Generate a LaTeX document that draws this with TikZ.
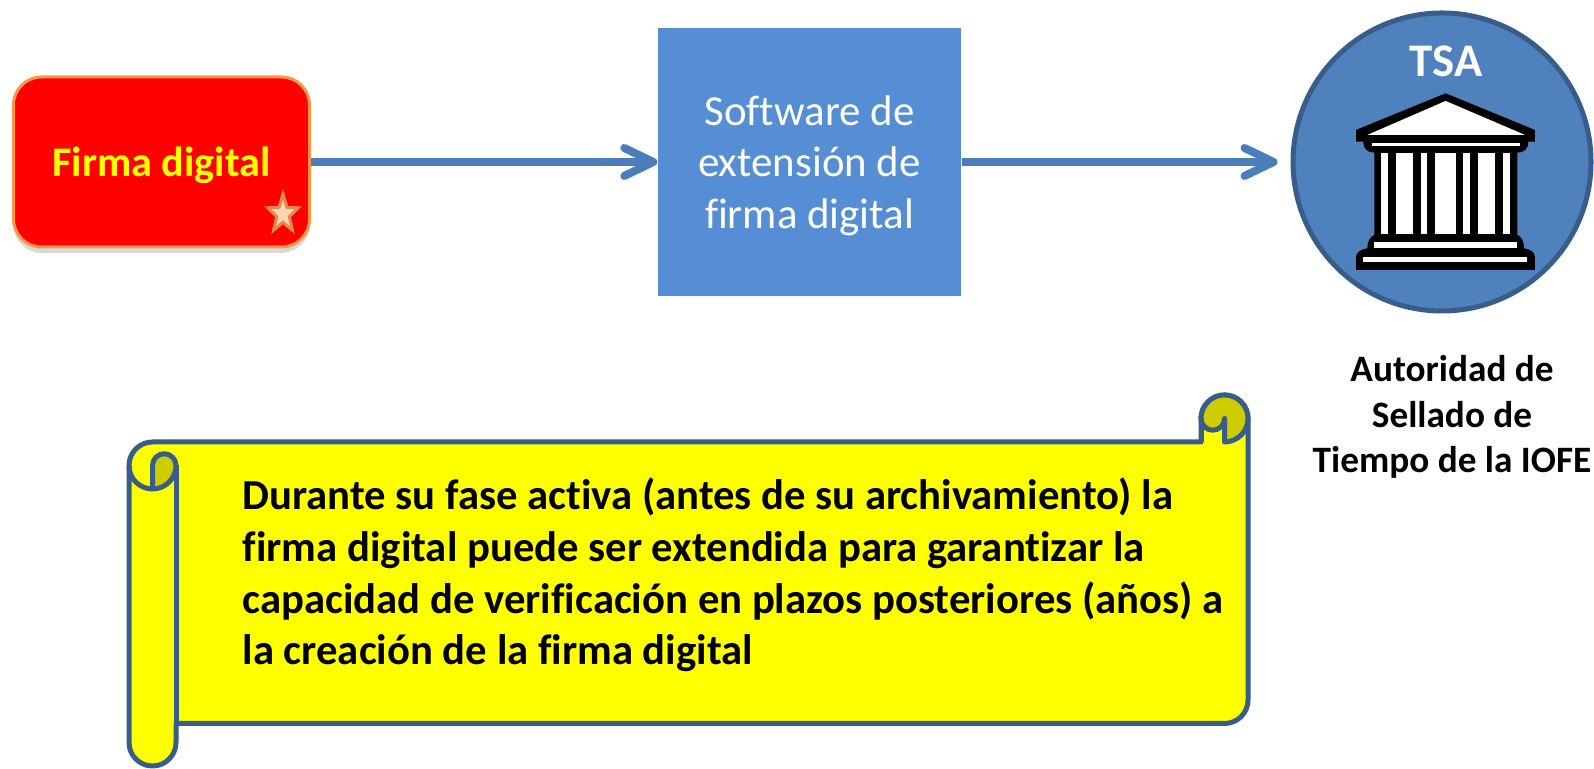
\documentclass[tikz,border=0pt]{standalone}
\usepackage{fontspec}
\setmainfont[Ligatures=CommonOff]{Carlito}
\usetikzlibrary{arrows.meta,shadows,shapes.geometric}
\definecolor{rollline}{HTML}{385D8A}
\definecolor{rollfold}{HTML}{CCCC00}
\definecolor{rollfill}{HTML}{FFFF00}
\definecolor{firmafill}{HTML}{FF0000}
\definecolor{arrowblue}{HTML}{4A7EBB}
\definecolor{softblue}{HTML}{558ED5}
\definecolor{tsablue}{HTML}{4F81BD}
\definecolor{firmaline}{HTML}{F79646}
\definecolor{starfill}{HTML}{FBD5B5}
\definecolor{starline}{HTML}{E08A4C}
\tikzset{
  flecha/.style={arrowblue,line width=0.8mm,-{Straight Barb[length=2.9mm,width=2.8mm,round]}},
  rollo/.style={rollline,line width=0.5mm,line join=round}
}
\begin{document}
\begin{tikzpicture}
\useasboundingbox (0,0) rectangle (15.94,7.69);
\fill[white] (0,0) rectangle (15.94,7.69);
\node[draw=firmaline,fill=firmafill,line width=0.3mm,rounded corners=2.8mm,minimum width=2.96cm,minimum height=1.70cm,
  drop shadow={shadow xshift=0mm,shadow yshift=-0.6mm,opacity=0.3},text=rollfill,text depth=0pt,font=\fontsize{12}{14}\selectfont\bfseries] (firma) at (1.615,6.07) {Firma digital};
\node[star,star points=5,star point ratio=2.4,fill=starfill,draw=starline,line width=0.3mm,minimum size=3.2mm,inner sep=0pt,yscale=1.25,transform shape] (estrella) at (2.83,5.55) {};
\node[fill=softblue,minimum width=3.03cm,minimum height=2.68cm,align=center,text=white,text depth=0pt,font=\fontsize{12.2}{14.7}\selectfont] (software) at (8.095,6.07) {Software de\\extensión de\\firma digital};
\node[circle,draw=rollline,fill=tsablue,line width=0.5mm,minimum size=2.98cm,inner sep=0pt] (tsa) at (14.42,6.07) {};
\node[text=white,font=\fontsize{13.3}{16}\selectfont\bfseries,inner sep=0pt] (tsatexto) at (14.46,7.08) {TSA};
\draw[flecha] (firma) -- (software);
\draw[flecha,shorten >=1.3mm] (software) -- (tsa);
\begin{scope}[shift={(12.8,7.69)},x=0.03333cm/10,y=-0.03333cm/10]
\fill[black] (228,390) -- (497,280) -- (765,390) -- (765,425) -- (745,425) .. controls (745,450) and (730,458) .. (712,458) -- (712,705) .. controls (725,710) and (732,725) .. (732,745) .. controls (750,748) and (765,755) .. (765,772) -- (765,810) -- (228,810) -- (228,772) .. controls (228,755) and (245,748) .. (262,745) .. controls (262,725) and (270,710) .. (283,705) -- (283,458) .. controls (265,458) and (250,450) .. (250,425) -- (228,425) -- cycle;
\fill[white] (262,405) -- (497,303) -- (735,405) -- cycle;
\fill[white] (275,430) rectangle (720,438);
\fill[white] (283,727) rectangle (710,745);
\fill[white] (250,770) rectangle (742,787);
\foreach \a/\b in {303/325,348/398,423/442,465/528,550/570,595/645,668/690}
  \fill[white] (\a,460) rectangle (\b,702);
\end{scope}
\node[align=center,font=\fontsize{10.6}{12.95}\selectfont\bfseries] (autoridad) at (14.52,3.52) {Autoridad de\\Sellado de\\Tiempo de la IOFE};
\draw[rollo,fill=rollfill] (1.29,3.035) arc (180:90:0.235) -- (12.01,3.27) -- (12.01,3.505) arc (180:90:0.235) arc (90:0:0.235) -- (12.48,0.69) arc (0:-90:0.235) -- (1.76,0.455) -- (1.76,0.265) arc (0:-90:0.235) arc (-90:-180:0.235) -- cycle;
\draw[rollo,fill=rollfold] (1.525,2.80) -- (1.525,3.035) arc (180:0:0.1175) arc (0:-90:0.235) -- cycle;
\draw[rollo] (1.29,3.035) arc (180:270:0.235);
\draw[rollo] (1.76,3.035) -- (1.76,0.455);
\draw[rollo,fill=rollfold] (12.01,3.505) arc (180:90:0.235) arc (90:-90:0.235) -- (12.245,3.505) arc (360:180:0.1175) -- cycle;
\draw[rollo] (12.01,3.505) -- (12.01,3.27);
\node[anchor=west,inner sep=0pt,align=left,font=\fontsize{12.15}{14.7}\selectfont\bfseries] (nota) at (2.42,1.94) {Durante su fase activa (antes de su archivamiento) la\\firma digital puede ser extendida para garantizar la\\capacidad de verificación en plazos posteriores (años) a\\la creación de la firma digital};
\end{tikzpicture}
\end{document}
